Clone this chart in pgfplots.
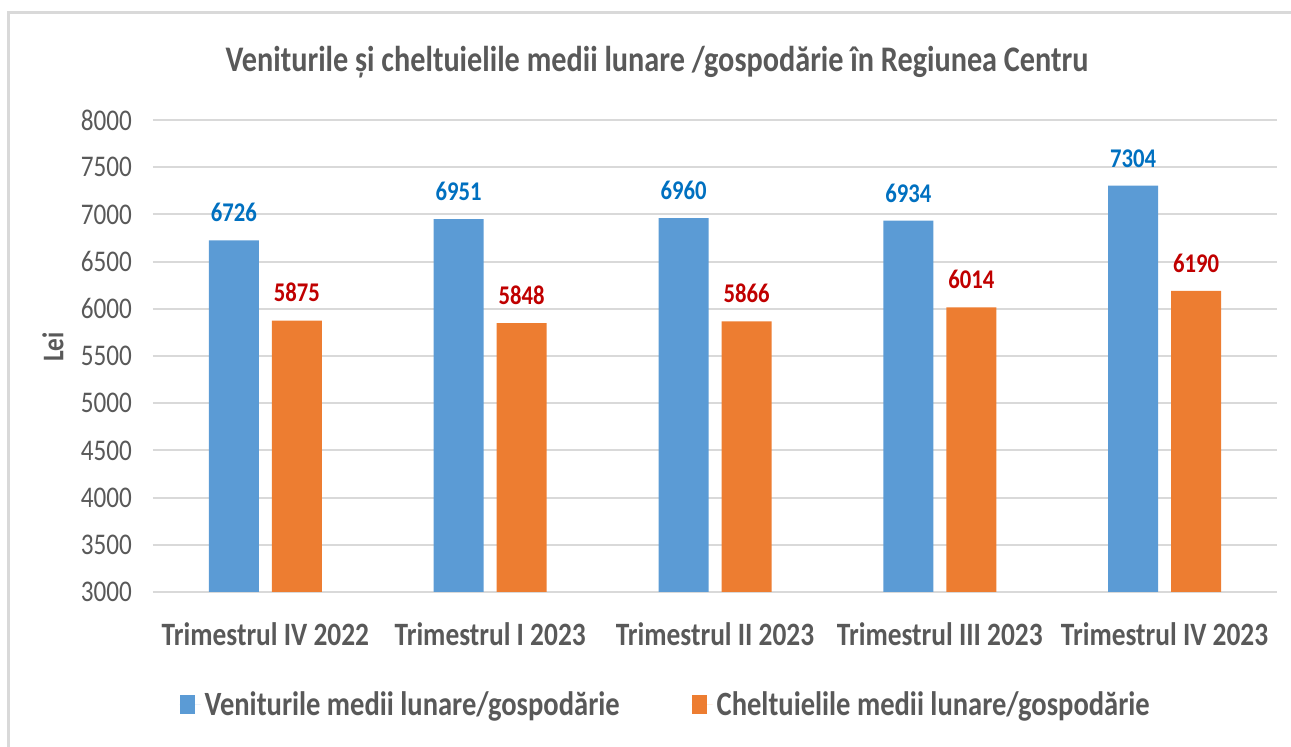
\documentclass[border=0pt]{standalone}
\usepackage{pgfplots}
\pgfplotsset{compat=1.18}
\usepackage{fontspec}
\setmainfont{Carlito}[FakeStretch=0.84]
\definecolor{venit}{HTML}{5B9BD5}
\definecolor{chelt}{HTML}{ED7D31}
\definecolor{lblblue}{HTML}{0070C0}
\definecolor{lblred}{HTML}{C00000}
\definecolor{txtgray}{HTML}{595959}
\definecolor{gridgray}{HTML}{D9D9D9}

\begin{document}
\begin{tikzpicture}[x=0.5pt,y=0.5pt]
\clip (0,0) rectangle (1291,747);
% chart frame
\draw[color=gridgray, line width=1.5pt] (8,-20) rectangle (1300,734);
\node[font=\bfseries\fontsize{18}{20}\selectfont, text=txtgray] at (657,685)
  {Veniturile și cheltuielile medii lunare /gospodărie în Regiunea Centru};
\node[rotate=90, font=\bfseries\fontsize{15}{18}\selectfont, text=txtgray] at (53,400) {Lei};

\begin{axis}[
    at={(76.5pt,77.5pt)}, anchor=south west,
    scale only axis, width=562pt, height=236pt,
    ymin=3000, ymax=8000, ytick={3000,3500,...,8000},
    xmin=-0.5, xmax=4.5, xtick={0,1,2,3,4},
    xticklabels={Trimestrul IV 2022, Trimestrul I 2023, Trimestrul II 2023, Trimestrul III 2023, Trimestrul IV 2023},
    axis line style={draw=none},
    major tick length=0pt,
    ymajorgrids, grid style={color=gridgray, line width=1pt},
    /pgf/number format/1000 sep={},
    /pgf/number format/assume math mode=true,
    yticklabel style={font=\fontsize{15}{18}\selectfont, text=txtgray, xshift=-7pt},
    xticklabel style={font=\bfseries\fontsize{16.3}{19}\selectfont, text=txtgray, yshift=-12pt},
    clip=false,
    ybar, bar width=25pt,
    nodes near coords,
    every node near coord/.append style={font=\bfseries\fontsize{13.5}{16}\selectfont, inner sep=0pt, yshift=9pt, anchor=south},
    legend columns=2,
    legend style={at={(0.457,-0.239)}, anchor=center, draw=none, fill=none,
      font=\bfseries\fontsize{17}{20}\selectfont, text=txtgray,
      /tikz/every even column/.append style={column sep=34pt}},
    legend image code/.code={\fill[#1] (0pt,-4.5pt) rectangle (7.5pt,5pt);
      \path (0pt,0pt) -- (10.5pt,0pt);},
]
\addplot[fill=venit, draw=none, bar shift=-15.75pt, nodes near coords style={text=lblblue}]
  coordinates {(0,6726) (1,6951) (2,6960) (3,6934) (4,7304)};
\addplot[fill=chelt, draw=none, bar shift=15.75pt, nodes near coords style={text=lblred}]
  coordinates {(0,5875) (1,5848) (2,5866) (3,6014) (4,6190)};
\legend{Veniturile medii lunare/gospodărie, Cheltuielile medii lunare/gospodărie}
\end{axis}
\end{tikzpicture}
\end{document}
